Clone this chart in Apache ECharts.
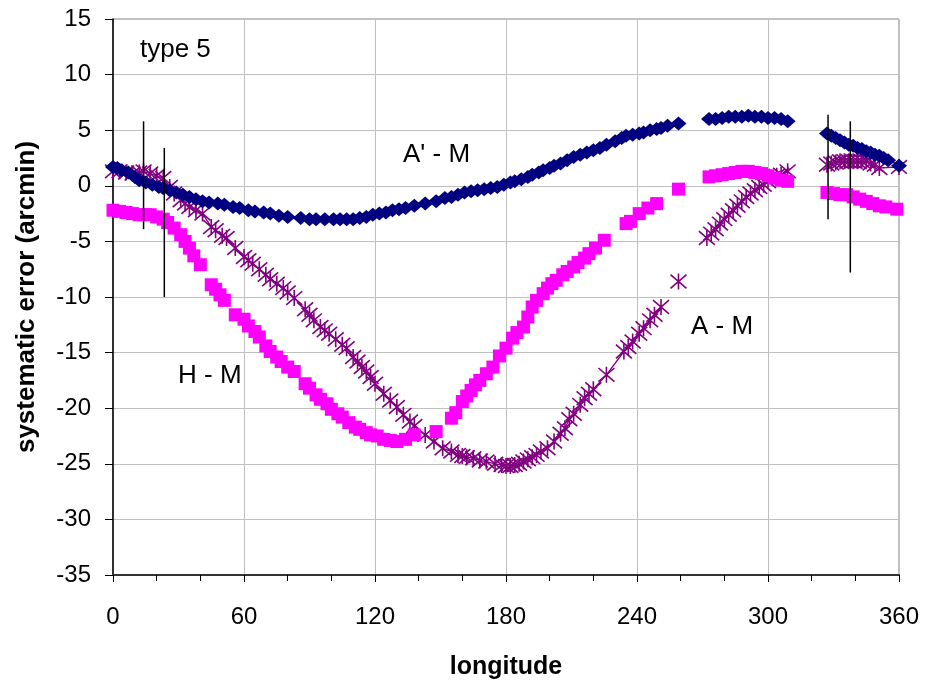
<!DOCTYPE html>
<html>
<head>
<meta charset="utf-8">
<script src="https://cdn.jsdelivr.net/npm/echarts@6/dist/echarts.min.js"></script>
<style>
  html, body { margin: 0; padding: 0; background: #fff; }
  #chart { width: 931px; height: 689px; }
</style>
</head>
<body>
<div id="chart"></div>
<script>
// A' - M (navy diamonds)
const apmX = [0, 2, 4, 7, 10, 12, 15, 18, 21, 23, 26, 29, 32, 35, 38, 41, 44, 48, 51, 55, 58, 62, 65, 69, 72, 76, 80, 86, 90, 93, 97, 101, 104, 107, 110, 113, 116, 119, 122, 125, 128, 131, 134, 138, 143, 148, 152, 155, 158, 161, 164, 167, 170, 173, 176, 179, 182, 184, 187, 190, 192, 195, 197, 200, 202, 205, 208, 211, 214, 217, 220, 223, 226, 230, 233, 235, 238, 241, 243, 246, 249, 251, 254, 259, 273, 276, 279, 282, 285, 288, 291, 294, 297, 300, 303, 306, 309, 327, 329, 331, 333, 335, 337, 339, 341, 343, 345, 347, 349, 351, 353, 355, 360];
const apmY = [1.7, 1.6, 1.4, 1.2, 0.8, 0.5, 0.3, 0.1, -0.1, -0.2, -0.4, -0.6, -0.8, -1.0, -1.2, -1.4, -1.5, -1.6, -1.7, -1.9, -2.0, -2.2, -2.3, -2.4, -2.5, -2.7, -2.8, -2.9, -3.0, -3.0, -3.0, -3.0, -3.0, -3.0, -3.0, -2.9, -2.8, -2.6, -2.5, -2.4, -2.2, -2.1, -2.0, -1.8, -1.6, -1.4, -1.1, -1.0, -0.8, -0.6, -0.5, -0.4, -0.3, -0.2, -0.1, 0.1, 0.3, 0.4, 0.6, 0.8, 1.0, 1.2, 1.4, 1.6, 1.8, 2.0, 2.3, 2.6, 2.8, 3.0, 3.2, 3.4, 3.7, 4.0, 4.3, 4.5, 4.6, 4.7, 4.8, 5.0, 5.1, 5.2, 5.4, 5.6, 6.0, 6.0, 6.1, 6.2, 6.2, 6.2, 6.3, 6.2, 6.2, 6.1, 6.1, 6.0, 5.8, 4.7, 4.5, 4.3, 4.1, 3.9, 3.7, 3.6, 3.4, 3.3, 3.1, 3.0, 2.8, 2.7, 2.5, 2.3, 1.8];

// H - M (magenta squares)
const hmX = [0, 3, 6, 9, 12, 15, 17, 20, 23, 25, 28, 31, 33, 35, 37, 40, 45, 47, 49, 51, 56, 60, 62, 65, 67, 70, 72, 75, 77, 80, 83, 88, 90, 93, 95, 98, 100, 103, 105, 108, 111, 113, 116, 118, 121, 124, 127, 130, 134, 138, 148, 155, 157, 160, 162, 164, 166, 168, 171, 174, 177, 180, 183, 185, 188, 190, 192, 194, 197, 199, 201, 203, 206, 208, 211, 213, 216, 218, 221, 225, 235, 237, 241, 245, 249, 259, 273, 276, 279, 282, 285, 288, 291, 294, 297, 300, 303, 306, 309, 327, 330, 333, 336, 339, 342, 345, 348, 351, 354, 359];
const hmY = [-2.2, -2.3, -2.4, -2.5, -2.6, -2.6, -2.6, -2.8, -3.0, -3.3, -3.8, -4.4, -5.0, -5.6, -6.3, -7.1, -8.9, -9.3, -9.8, -10.3, -11.6, -12.0, -12.6, -13.1, -13.6, -14.4, -14.9, -15.4, -15.8, -16.3, -16.7, -17.8, -18.2, -18.8, -19.2, -19.6, -20.1, -20.5, -20.8, -21.3, -21.7, -21.9, -22.2, -22.4, -22.5, -22.8, -22.9, -23.0, -22.8, -22.4, -22.1, -20.9, -20.4, -19.4, -18.9, -18.4, -17.9, -17.5, -16.9, -16.3, -15.3, -14.6, -13.7, -13.2, -12.7, -11.8, -10.9, -10.3, -9.7, -9.2, -8.8, -8.5, -8.0, -7.7, -7.3, -6.9, -6.5, -6.1, -5.6, -4.9, -3.4, -3.2, -2.5, -2.0, -1.6, -0.3, 0.8, 0.9, 1.0, 1.1, 1.2, 1.3, 1.3, 1.2, 1.1, 0.9, 0.7, 0.5, 0.4, -0.6, -0.7, -0.8, -0.8, -1.0, -1.2, -1.4, -1.6, -1.8, -1.9, -2.1];

// A - M (purple stars joined by a line, null = break)
const amX = [0, 3, 6, 9, 12, 14, 17, 20, 23, 26, 28, 31, 33, 35, 38, 41, 45, 47, 50, 52, 56, 60, 62, 64, 67, 70, 72, 75, 78, 80, 83, 88, 90, 92, 95, 97, 99, 102, 105, 107, 110, 112, 114, 116, 118, 120, 124, 127, 130, 133, 136, 138, 143, 147, 151, 155, 158, 160, 162, 165, 168, 171, 175, 178, 180, 182, 184, 186, 188, 190, 192, 194, 196, 199, 202, 205, 207, 209, 211, 214, 216, 218, 220, 226, 234, 236, 238, 241, 243, 246, 248, 251, 255, 259, 265, 272, 274, 276, 278, 280, 282, 284, 286, 288, 290, 292, 294, 296, 298, 300, 302, 304, 306, 309, 318, 327, 329, 331, 333, 335, 337, 339, 341, 343, 345, 347, 349, 351, 360];
const amY = [1.3, 1.3, 1.2, 1.1, 1.2, 1.3, 1.1, 0.9, 0.7, -0.1, -0.7, -1.3, -1.6, -1.9, -2.2, -2.5, -3.7, -4.0, -4.5, -4.7, -5.6, -6.4, -6.7, -7.0, -7.5, -8.0, -8.4, -8.8, -9.2, -9.6, -10.1, -11.1, -11.6, -12.1, -12.7, -13.0, -13.3, -13.8, -14.3, -14.6, -15.4, -15.8, -16.3, -16.7, -17.2, -17.8, -18.7, -19.3, -19.9, -20.6, -21.2, -21.6, -22.4, -23.0, -23.6, -23.9, -24.2, -24.3, -24.4, -24.5, -24.7, -24.8, -25.0, -25.1, -25.2, -25.2, -25.1, -25.0, -24.8, -24.6, -24.4, -24.2, -23.9, -23.6, -23.0, -22.3, -21.8, -21.0, -20.5, -19.7, -19.1, -18.7, -18.3, -17.0, -14.9, -14.5, -14.0, -13.3, -12.8, -12.1, -11.6, -10.9, null, -8.6, null, -4.7, -4.3, -3.9, -3.4, -3.0, -2.6, -2.2, -1.8, -1.4, -1.0, -0.7, -0.4, -0.1, 0.1, 0.4, 0.7, 0.9, 1.0, 1.3, null, 1.9, 2.0, 2.1, 2.2, 2.2, 2.2, 2.2, 2.2, 2.2, 2.2, 2.0, 1.9, 1.6, 1.7];

// vertical error bars
const errX = [14, 23.5, 327.5, 337.7];
const errLow = [-3.9, -10.0, -3.0, -7.8];
const errHigh = [5.8, 3.4, 6.4, 5.8];

const yTicks = [-35, -30, -25, -20, -15, -10, -5, 0, 5, 10, 15];

const font = "'Liberation Sans', Arial, sans-serif";
const pairs = (xs, ys) => xs.map((x, i) => [x, ys[i] == null ? '-' : ys[i]]);

const chart = echarts.init(document.getElementById('chart'), null, { renderer: 'canvas' });

chart.setOption({
  animation: false,
  backgroundColor: '#fff',
  grid: {
    left: 113, right: 32, top: 19, bottom: 114,
    show: true, borderColor: '#808080', borderWidth: 1
  },
  xAxis: {
    type: 'value',
    min: 0, max: 360, interval: 60,
    name: 'longitude',
    nameLocation: 'middle',
    nameGap: 80,
    nameTextStyle: { fontFamily: font, fontSize: 25, fontWeight: 'bold', color: '#000' },
    axisLine: { show: true, onZero: false, lineStyle: { color: '#333', width: 2 } },
    axisTick: { show: true, length: 7, lineStyle: { color: '#000' } },
    minorTick: { show: true, splitNumber: 3, length: 6, lineStyle: { color: '#000' } },
    axisLabel: { margin: 30, fontFamily: font, fontSize: 24, color: '#000' },
    splitLine: { show: true, lineStyle: { color: '#c0c0c0', width: 1 } }
  },
  yAxis: {
    type: 'value',
    min: yTicks[0], max: yTicks[yTicks.length - 1], interval: 5,
    name: 'systematic error (arcmin)',
    nameLocation: 'middle',
    nameGap: 73,
    nameTextStyle: { fontFamily: font, fontSize: 26, fontWeight: 'bold', color: '#000' },
    axisLine: { show: true, onZero: false, lineStyle: { color: '#000', width: 1.5 } },
    axisTick: { show: true, length: 8, lineStyle: { color: '#000' } },
    axisLabel: { margin: 22, fontFamily: font, fontSize: 24, color: '#000' },
    splitLine: { show: true, lineStyle: { color: '#c0c0c0', width: 1 } }
  },
  series: [
    {
      name: 'A - M',
      type: 'line',
      data: pairs(amX, amY),
      connectNulls: false,
      symbol: 'path://M0,-7L0,7M-6,-6L6,6M-6,6L6,-6',
      symbolSize: 16,
      showSymbol: true,
      showAllSymbol: true,
      lineStyle: { color: '#800080', width: 1.3 },
      itemStyle: { color: '#800080', borderColor: '#800080', borderWidth: 1.6 },
      z: 2
    },
    {
      name: 'H - M',
      type: 'scatter',
      data: pairs(hmX, hmY),
      symbol: 'rect',
      symbolSize: 13,
      itemStyle: { color: '#ff00ff', opacity: 1 },
      z: 3
    },
    {
      name: "A' - M",
      type: 'scatter',
      data: pairs(apmX, apmY),
      symbol: 'diamond',
      symbolSize: [16, 14],
      itemStyle: { color: '#000080', opacity: 1 },
      z: 4
    },
    {
      name: 'error',
      type: 'custom',
      data: errX.map((x, i) => [x, errLow[i], errHigh[i]]),
      renderItem: function (params, api) {
        const lo = api.coord([api.value(0), api.value(1)]);
        const hi = api.coord([api.value(0), api.value(2)]);
        return {
          type: 'line',
          shape: { x1: lo[0], y1: lo[1], x2: hi[0], y2: hi[1] },
          style: { stroke: '#000', lineWidth: 1.5 }
        };
      },
      z: 5
    }
  ],
  graphic: [
    { type: 'text', x: 140, y: 50, style: { text: 'type 5', font: '26px ' + font, fill: '#000', verticalAlign: 'middle' } },
    { type: 'text', x: 403, y: 155, style: { text: "A' - M", font: '26px ' + font, fill: '#000', verticalAlign: 'middle' } },
    { type: 'text', x: 178, y: 376, style: { text: 'H - M', font: '26px ' + font, fill: '#000', verticalAlign: 'middle' } },
    { type: 'text', x: 691, y: 327, style: { text: 'A - M', font: '26px ' + font, fill: '#000', verticalAlign: 'middle' } }
  ]
});
</script>
</body>
</html>
